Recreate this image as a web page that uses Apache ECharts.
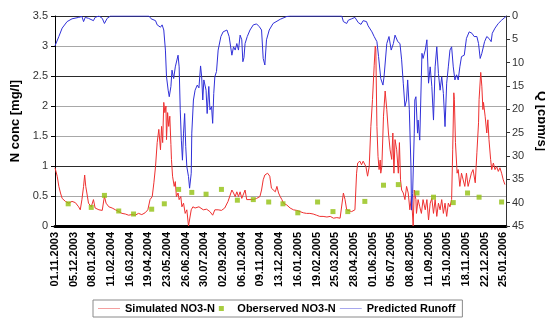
<!DOCTYPE html>
<html><head><meta charset="utf-8">
<script src="https://cdn.jsdelivr.net/npm/echarts@6/dist/echarts.min.js"></script>
<style>html,body{margin:0;padding:0;background:#fff}#c{width:545px;height:320px}</style>
</head><body><div id="c"></div>
<script>
// x tick labels (every 34 days from 01.11.2003)
const dateLabels = ['01.11.2003','05.12.2003','08.01.2004','11.02.2004','16.03.2004','19.04.2004','23.05.2004','26.06.2004','30.07.2004','02.09.2004','06.10.2004','09.11.2004','13.12.2004','16.01.2005','19.02.2005','25.03.2005','28.04.2005','01.06.2005','05.07.2005','08.08.2005','11.09.2005','15.10.2005','18.11.2005','22.12.2005','25.01.2006'];
const labelStep = 34;
const lastDay = 821;

// Simulated NO3-N (day since 01.11.2003, mg/l)
const simDays = [0,4,7,10,13,19,25,31,34,37,43,46,49,52,54,56,58,61,66,70,73,80,86,89,90,93,98,104,110,116,122,128,134,140,146,152,158,164,169,173,177,180,183,186,189,192,194,196,198,200,202,203,205,207,209,211,212,214,217,219,221,224,226,229,231,234,237,240,243,245,248,251,255,262,264,270,276,282,287,291,297,303,309,315,322,325,328,331,334,337,340,343,346,349,355,361,367,373,376,379,382,387,391,394,397,401,404,407,410,413,416,422,428,434,440,446,452,458,464,470,476,482,488,495,501,507,513,519,522,525,528,531,534,540,546,549,551,555,558,561,566,569,572,575,578,581,583,584,586,588,590,592,593,595,598,601,604,607,610,613,615,617,619,622,625,627,629,631,634,637,640,643,646,649,652,654,657,658,661,664,667,670,674,677,680,683,686,689,692,695,698,701,704,707,710,713,716,719,722,724,726,727,729,732,734,737,740,743,746,749,752,755,758,761,765,768,771,772,775,777,779,780,783,786,788,790,793,795,798,801,804,807,810,813,816,819];
const simValues = [0.97,0.83,0.66,0.55,0.46,0.41,0.38,0.41,0.38,0.39,0.32,0.27,0.44,0.66,0.85,0.66,0.55,0.38,0.32,0.44,0.30,0.27,0.26,0.44,0.49,0.38,0.32,0.30,0.27,0.24,0.21,0.20,0.18,0.19,0.18,0.21,0.19,0.22,0.27,0.44,0.49,0.72,0.99,1.39,1.61,1.27,1.66,1.39,2.06,1.89,2.00,1.44,1.89,1.66,1.83,1.36,1.11,0.83,0.66,0.74,0.49,0.55,0.44,0.49,0.32,0.38,0.21,0.27,0.00,0.02,0.27,0.32,0.30,0.32,0.30,0.27,0.28,0.24,0.18,0.27,0.27,0.26,0.30,0.41,0.60,0.55,0.49,0.57,0.49,0.57,0.46,0.49,0.60,0.44,0.44,0.44,0.46,0.49,0.60,0.77,0.85,0.88,0.83,0.63,0.66,0.57,0.66,0.55,0.49,0.44,0.38,0.35,0.30,0.27,0.26,0.24,0.22,0.21,0.21,0.20,0.18,0.16,0.16,0.15,0.16,0.13,0.14,0.13,0.16,0.55,0.44,0.27,0.28,0.24,0.27,0.88,1.05,1.08,1.02,1.08,0.99,0.83,0.99,1.66,2.11,2.67,3.00,2.95,1.66,1.16,0.94,1.10,0.88,0.99,1.83,2.25,1.94,1.55,1.27,1.11,1.55,0.88,1.44,1.27,0.88,1.39,0.77,0.60,0.55,0.44,0.66,0.55,0.27,0.49,0.00,0.60,0.44,0.21,0.44,0.32,0.21,0.44,0.27,0.44,0.10,0.38,0.46,0.21,0.44,0.16,0.38,0.27,0.44,0.21,0.38,0.16,0.38,0.32,0.44,1.27,2.22,2.11,1.39,0.88,0.94,0.66,0.88,0.77,0.66,0.88,0.66,0.77,0.88,0.94,0.72,1.22,1.72,2.11,2.56,2.33,1.94,2.06,1.83,1.55,1.77,1.44,1.11,0.94,1.05,0.94,0.99,0.91,0.97,0.88,0.77,0.69];

// Observed NO3-N
const obsDays = [24,66,90,116,143,176,199,225,249,275,303,332,361,389,415,442,478,506,533,564,598,625,659,689,725,751,772,813];
const obsValues = [0.37,0.31,0.51,0.25,0.20,0.28,0.37,0.61,0.56,0.53,0.61,0.43,0.44,0.40,0.37,0.22,0.40,0.24,0.24,0.41,0.68,0.69,0.55,0.48,0.39,0.55,0.48,0.40];

// Predicted runoff Q (cbm/s)
const runoffDays = [0,7,13,22,31,43,49,52,55,61,70,73,80,86,90,95,101,171,175,183,186,189,192,195,198,201,203,206,208,211,213,216,219,224,226,228,230,232,234,236,238,240,243,245,248,249,252,255,259,262,265,267,269,271,275,277,280,282,285,287,289,291,294,297,302,306,313,317,322,325,328,331,334,337,340,342,344,346,350,355,361,367,372,376,379,382,385,390,397,410,422,428,522,525,531,534,540,546,552,557,561,567,570,577,581,586,589,593,597,599,604,608,612,616,619,624,628,631,634,637,640,642,645,648,649,651,654,655,657,660,661,664,668,670,674,677,680,683,686,689,692,695,698,701,704,707,710,713,716,719,722,725,728,731,734,737,740,745,749,754,759,763,768,771,774,777,782,786,790,794,796,801,807,813,819,821];
const runoffValues = [6.4,4.4,2.6,1.2,0.6,0.3,0.1,1.2,0.3,0.5,1.0,0.3,0,0.5,1.6,0.5,0,0,0.6,1.0,1.9,1.5,2.4,1.9,3.0,7.3,13,15.9,17.3,15.1,11.6,13.4,10.9,8.4,10.9,20.1,26.6,30.9,25.1,20.9,28,32.3,34.4,36.9,33.7,25.1,18,15.9,14.8,15.4,10.7,13,18,13.7,15.9,20.9,15.1,20.1,19.4,23,16.6,13,11.9,7.3,4.4,3.4,3.0,4.4,8.4,6.6,7.3,5.9,7.3,4.1,5.1,9.8,8.9,5.9,4.4,3.0,1.9,1.7,2.3,3.0,9.1,10.5,5.1,3.0,1.6,0.7,0.1,0,0,1.2,1.6,0.9,0.6,0.3,1.4,1.8,1.0,1.2,2.1,3.4,4.4,5.5,8.7,13.4,14.8,13,5.9,4.4,7.3,5.9,4.1,5.5,5.9,9.4,14.4,19.4,18,13.7,20.1,32.3,41.6,38,25.1,18,17.3,25.1,22.3,26.6,8,9.1,7.3,5.1,14.4,10.9,15.1,22.3,10.9,6.6,12.3,15.9,13,16.6,23.7,14.4,10.9,7.3,6.6,10.9,13.7,12.6,13.7,10.9,8.7,8.4,4.8,3.4,3.7,4.4,4.4,5.9,9.1,8.0,5.5,4.4,4.8,5.5,3.7,2.6,1.6,0.9,0.3,0.1];

const zip = (a, b) => a.map((d, i) => [d, b[i]]);
const FONT = 'Liberation Sans, Arial, sans-serif';
const DARK = '#2a2a2a', GRAY = '#a8a8a8';
const RED = '#ee3030', BLUE = '#3030d8', GREEN = '#92c010';
const LINE_ICON = 'path://M0 0H22V1H0Z';
const SQUARE_ICON = 'path://M0 0H1V1H0Z';

const chart = echarts.init(document.getElementById('c'), null, {renderer: 'canvas'});
chart.setOption({
  animation: false,
  backgroundColor: '#fff',
  grid: {left: 55, right: 39, top: 16, bottom: 94, containLabel: false, outerBoundsMode: 'none'},
  legend: {
    left: 93, top: 300, orient: 'horizontal',
    itemGap: 4, itemWidth: 22, itemHeight: 5,
    padding: [3, 7, 3, 5],
    borderColor: '#8a8a8a', borderWidth: 1,
    symbolKeepAspect: true,
    textStyle: {fontFamily: FONT, fontSize: 11, fontWeight: 'bold', color: '#000'},
    data: [
      {name: 'Simulated NO3-N', icon: LINE_ICON, itemStyle: {color: '#f4a0a0'}},
      {name: 'Oberserved NO3-N', icon: SQUARE_ICON, itemStyle: {color: GREEN}},
      {name: 'Predicted Runoff', icon: LINE_ICON, itemStyle: {color: '#a8a8ee'}}
    ]
  },
  xAxis: {
    type: 'value', min: 0, max: lastDay, interval: labelStep,
    axisLine: {show: true, onZero: false, lineStyle: {color: '#000', width: 3}},
    axisTick: {show: false},
    splitLine: {show: false},
    axisLabel: {
      rotate: 90, margin: 6, fontFamily: FONT, fontSize: 11, fontWeight: 'bold', color: '#000',
      showMaxLabel: false, showMinLabel: true,
      formatter: v => (v % labelStep === 0 && dateLabels[v / labelStep]) ? dateLabels[v / labelStep] : ''
    }
  },
  yAxis: [
    {
      type: 'value', min: 0, max: 3.5, interval: 0.5, position: 'left',
      name: 'N conc [mg/l]', nameLocation: 'middle', nameGap: 31,
      nameTextStyle: {fontFamily: FONT, fontSize: 13, fontWeight: 'bold', color: '#000'},
      axisLine: {show: true, lineStyle: {color: '#000', width: 1}},
      axisTick: {show: true, length: 4, lineStyle: {color: '#000'}},
      axisLabel: {margin: 7, fontFamily: FONT, fontSize: 11, color: '#333'},
      splitLine: {show: true, lineStyle: {width: 1, color: [DARK, GRAY, DARK, GRAY, GRAY, DARK, GRAY, DARK]}}
    },
    {
      type: 'value', min: 0, max: 45, interval: 5, position: 'right', inverse: true,
      name: 'Q [cbm/s]', nameLocation: 'middle', nameGap: 25, nameRotate: -90,
      nameTextStyle: {fontFamily: FONT, fontSize: 13, fontWeight: 'bold', color: '#000'},
      axisLine: {show: true, lineStyle: {color: '#333', width: 1}},
      axisTick: {show: true, length: 4, lineStyle: {color: '#333'}},
      axisLabel: {margin: 6, fontFamily: FONT, fontSize: 11, color: '#333'},
      splitLine: {show: false}
    }
  ],
  series: [
    {
      name: 'Simulated NO3-N', type: 'line', yAxisIndex: 0, symbol: 'none', showSymbol: false,
      data: zip(simDays, simValues),
      lineStyle: {color: RED, width: 1}, itemStyle: {color: RED}, z: 2
    },
    {
      name: 'Oberserved NO3-N', type: 'scatter', yAxisIndex: 0, symbol: 'rect', symbolSize: 5,
      data: zip(obsDays, obsValues),
      itemStyle: {color: GREEN}, z: 3
    },
    {
      name: 'Predicted Runoff', type: 'line', yAxisIndex: 1, symbol: 'none', showSymbol: false,
      data: zip(runoffDays, runoffValues),
      lineStyle: {color: BLUE, width: 1}, itemStyle: {color: BLUE}, z: 4
    }
  ]
});
</script></body></html>
